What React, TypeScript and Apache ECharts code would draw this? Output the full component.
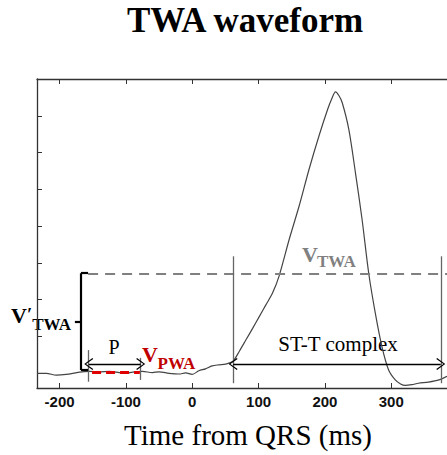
import React, { useEffect, useRef } from "react";
import * as echarts from "echarts";

// Trace of the averaged beat (time in ms from QRS, amplitude in arbitrary units)
const times = [-234, -220, -205, -190, -170, -155, -140, -125, -110, -100, -90, -75, -60, -50, -35, -20, -10, 0, 10, 20, 30, 40, 50, 61, 71, 81, 91, 101, 111, 121, 131, 146, 161, 176, 191, 204, 210, 216, 221, 226, 236, 246, 256, 266, 276, 286, 296, 306, 314, 321, 331, 341, 356, 372, 384];
const values = [0, 0, -0.05, -0.03, 0.03, 0.05, 0.04, 0.05, 0.02, 0.0, 0.03, 0.05, 0.02, 0.04, 0.0, -0.02, 0.01, -0.03, 0.07, 0.12, 0.2, 0.23, 0.25, 0.32, 0.6, 0.91, 1.22, 1.54, 1.86, 2.18, 2.65, 3.63, 4.54, 5.54, 6.45, 7.17, 7.45, 7.65, 7.55, 7.36, 6.63, 5.45, 4.18, 2.72, 1.63, 0.72, 0.09, -0.18, -0.29, -0.33, -0.31, -0.27, -0.24, -0.18, -0.08];

const xTicks = [-200, -100, 0, 100, 200, 300];
const yTicks = [0, 1, 2, 3, 4, 5, 6, 7, 8];

// Annotation anchors (ms / amplitude)
const pWindow = [-156, -77.7];
const stWindow = [61.6, 374.6];
const arrowLevel = 0.25;
const twaLevel = 2.71;
const pwaLevel = 0.02;
const pwaDash = [-151, -79];
const bracketX = [-176.9, -167.8, -157];
const bracketY = [0.09, 1.41, 2.72];

const chevron = "path://M6,0 L12,10 L11,11 L6,2.2 L1,11 L0,10 Z";

export default function App() {
  const ref = useRef<HTMLDivElement>(null);
  useEffect(() => {
    if (!ref.current) return;
    const chart = echarts.init(ref.current, null, { renderer: "svg" });
    const seg = (x1: number, y1: number, x2: number, y2: number, lineStyle: any, s1 = "none", s2 = "none") => [
      { coord: [x1, y1], symbol: s1, lineStyle },
      { coord: [x2, y2], symbol: s2 },
    ];
    const grayV = { color: "#666", width: 1.3, type: "solid" };
    const black = { color: "#000", width: 1.4, type: "solid" };
    const bracket = { color: "#000", width: 2.2, type: "solid" };
    const serif = "'Liberation Serif', 'Times New Roman', serif";
    const txt = (text: string, x: number, y: number, size: number, opts: any = {}) => ({
      type: "text",
      x,
      y,
      silent: true,
      style: {
        text,
        fontFamily: serif,
        fontSize: size,
        fontWeight: opts.bold ? "bold" : "normal",
        fill: opts.color || "#000",
        align: opts.align || "left",
        verticalAlign: "middle",
      },
    });
    const axisLineStyle = { color: "#333", width: 1.3 };
    chart.setOption({
      animation: false,
      grid: { left: 37, right: 0, top: 79, bottom: 67 },
      xAxis: [
        {
          type: "value",
          min: -234,
          max: 384,
          position: "bottom",
          axisLine: { show: true, onZero: false, lineStyle: axisLineStyle },
          axisTick: { show: true, inside: true, length: 5, customValues: xTicks, lineStyle: { color: "#333" } },
          axisLabel: {
            customValues: xTicks,
            fontFamily: "'Liberation Sans', Arial, sans-serif",
            fontWeight: "bold",
            fontSize: 15,
            color: "#111",
            margin: 6,
          },
          splitLine: { show: false },
        },
        {
          type: "value",
          min: -234,
          max: 384,
          position: "top",
          axisLine: { show: true, onZero: false, lineStyle: axisLineStyle },
          axisTick: { show: true, inside: true, length: 5, customValues: xTicks, lineStyle: { color: "#333" } },
          axisLabel: { show: false },
          splitLine: { show: false },
        },
      ],
      yAxis: {
        type: "value",
        min: -0.4,
        max: 8,
        axisLine: { show: true, onZero: false, lineStyle: axisLineStyle },
        axisTick: { show: true, inside: true, length: 5, customValues: yTicks, lineStyle: { color: "#333" } },
        axisLabel: { show: false },
        splitLine: { show: false },
      },
      series: [
        {
          type: "line",
          xAxisIndex: 0,
          data: times.map((t, i) => [t, values[i]]),
          showSymbol: false,
          smooth: 0.3,
          lineStyle: { color: "#444", width: 1.2 },
          z: 3,
          markLine: {
            silent: true,
            animation: false,
            symbol: ["none", "none"],
            symbolSize: [12, 9],
            label: { show: false },
            emphasis: { disabled: true },
            data: [
              // V_TWA threshold
              seg(bracketX[2], twaLevel, 384, twaLevel, { color: "#808080", width: 2.2, type: [10, 7] }),
              // window boundaries
              seg(pWindow[0], 0.63, pWindow[0], -0.23, grayV),
              seg(pWindow[1], 0.42, pWindow[1], -0.18, grayV),
              seg(stWindow[0], 3.18, stWindow[0], -0.27, grayV),
              seg(stWindow[1], 3.18, stWindow[1], -0.27, grayV),
              // arrows
              seg(pWindow[0], arrowLevel, pWindow[1], arrowLevel, black, chevron, chevron),
              seg(stWindow[0], arrowLevel, stWindow[1], arrowLevel, black, chevron, chevron),
              // red P-wave dashed segment
              seg(pwaDash[0], pwaLevel, pwaDash[1], pwaLevel, { color: "#e00000", width: 3, type: [9, 5] }),
              // bracket
              seg(bracketX[1], bracketY[0], bracketX[1], bracketY[2], bracket),
              seg(bracketX[1], bracketY[0], bracketX[2], bracketY[0], bracket),
              seg(bracketX[1], bracketY[2], bracketX[2], bracketY[2], bracket),
              seg(bracketX[0], bracketY[1], bracketX[1], bracketY[1], bracket),
            ],
          },
        },
      ],
      graphic: [
        txt("TWA waveform", 245, 20, 35, { bold: true, align: "center" }),
        txt("Time from QRS (ms)", 248, 435, 29, { align: "center" }),
        {
          type: "text",
          x: 11,
          y: 304.5,
          silent: true,
          style: {
            text: "{v|V}{p|′}{s|TWA}",
            align: "left",
            verticalAlign: "top",
            fill: "#000",
            rich: {
              v: { fontFamily: serif, fontWeight: "bold", fontSize: 22, lineHeight: 22, verticalAlign: "top", fill: "#000" },
              p: { fontFamily: serif, fontWeight: "bold", fontSize: 19, lineHeight: 19, verticalAlign: "top", fill: "#000" },
              s: { fontFamily: serif, fontWeight: "bold", fontSize: 17, lineHeight: 40, fill: "#000" },
            },
          },
        },
        txt("V", 302, 254.2, 22, { bold: true, color: "#808080" }),
        txt("TWA", 317, 261.5, 17, { bold: true, color: "#808080" }),
        txt("V", 142, 354.2, 22, { bold: true, color: "#c00000" }),
        txt("PWA", 157.5, 363.5, 17, { bold: true, color: "#c00000" }),
        txt("P", 114, 346.5, 20, { align: "center" }),
        txt("ST-T complex", 338, 343.6, 21, { align: "center" }),
      ],
    });
    return () => chart.dispose();
  }, []);
  return <div ref={ref} style={{ position: "absolute", left: 0, top: 0, width: 447, height: 455 }} />;
}
